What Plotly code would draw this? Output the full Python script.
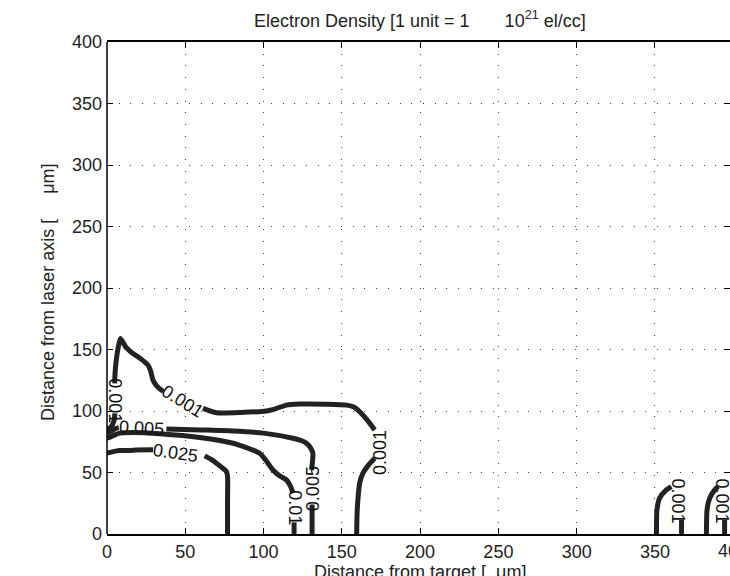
import plotly.graph_objects as go

# ---- contour level 0.001 (segments between labels) ----
c001_a_x = [0, 2.5, 4.5, 5.0]
c001_a_y = [85, 87, 92, 98]
c001_b_x = [4.9, 5.2, 6.0, 7.2, 8.6, 12.0, 16.6, 22.0, 26.2, 28.0, 29.4, 32.0, 34.7, 36.0]
c001_b_y = [122.5, 132, 142, 152, 159, 152, 146.8, 142, 137.3, 132, 125, 120, 117, 116]
c001_c_x = [61.3, 66, 70, 85, 101.8, 108, 114.6, 123, 140, 153, 158, 161.4, 166, 171]
c001_c_y = [102.2, 100, 98.6, 98.8, 100, 102, 104.8, 105.6, 105.5, 104.8, 103, 99.4, 93, 84.6]
c001_d_x = [171, 167, 163.5, 161.5, 160.4, 159.7, 159.5]
c001_d_y = [61.6, 56, 49.5, 42, 30, 15, 0]
c001_e_x = [351.0, 351.3, 353.0, 357.3, 360.5]
c001_e_y = [0, 19.7, 29.2, 35.9, 38.6]
c001_f_x = [367.0, 367.0]
c001_f_y = [0, 11.5]
c001_g_x = [382.9, 383.3, 385.0, 388.2, 390.3]
c001_g_y = [0, 19.8, 29.2, 35.9, 38.6]
c001_h_x = [394.5, 394.5]
c001_h_y = [0, 11.5]

# ---- contour level 0.005 ----
c005_a_x = [0, 3, 6, 7.5]
c005_a_y = [82, 84, 86, 86.5]
c005_b_x = [37.9, 60, 80.5, 100, 118.8, 124, 127.4, 130, 131.5, 131.2, 130.6]
c005_b_y = [85.4, 84.6, 83.8, 82, 77.8, 76, 73.8, 70, 65.7, 58, 52.1]
c005_c_x = [131.0, 131.0]
c005_c_y = [0, 24]

# ---- contour level 0.01 ----
c01_a_x = [0, 4, 8.1, 16.6, 33.7, 59.2, 80.5, 97.5, 102, 106, 110, 114.6, 117.5, 118.8]
c01_a_y = [77.8, 80, 82, 82.5, 81.5, 78.5, 73.8, 65.7, 59, 52, 47.5, 44, 38, 33.2]
c01_b_x = [119.5, 119.5]
c01_b_y = [0, 9.5]

# ---- contour level 0.025 ----
c025_a_x = [0, 4, 8, 18, 29.4]
c025_a_y = [65.7, 67, 67.8, 68.2, 68.4]
c025_b_x = [62.4, 66, 69.9, 73.5, 76.3, 77.0, 77.0, 77.0]
c025_b_y = [63.5, 61, 57.6, 54, 50.8, 47, 25, 0]

segments_x = [c001_a_x, c001_b_x, c001_c_x, c001_d_x, c001_e_x, c001_f_x, c001_g_x, c001_h_x,
              c005_a_x, c005_b_x, c005_c_x, c01_a_x, c01_b_x, c025_a_x, c025_b_x]
segments_y = [c001_a_y, c001_b_y, c001_c_y, c001_d_y, c001_e_y, c001_f_y, c001_g_y, c001_h_y,
              c005_a_y, c005_b_y, c005_c_y, c01_a_y, c01_b_y, c025_a_y, c025_b_y]

# ---- contour labels ----
label_text = ["0.001", "0.001", "0.001", "0.005", "0.005", "0.025", "0.01", "0.001", "0.001"]
label_x = [5.0, 48, 174.5, 22, 132, 44, 120, 365, 393]
label_y = [108, 108, 66, 86, 37, 66, 21, 27, 27]
label_angle = [90, 32, -90, 3, -90, 8, 90, 90, 90]

x_ticks = [0, 50, 100, 150, 200, 250, 300, 350, 400]
y_ticks = [0, 50, 100, 150, 200, 250, 300, 350, 400]

FONT = "Liberation Sans, Arial, sans-serif"
FS = 18

fig = go.Figure()
for sx, sy in zip(segments_x, segments_y):
    fig.add_trace(go.Scatter(x=sx, y=sy, mode="lines",
                             line=dict(color="#222222", width=5, shape="spline", smoothing=0.6),
                             hoverinfo="skip", showlegend=False))

for t, lx, ly, la in zip(label_text, label_x, label_y, label_angle):
    fig.add_annotation(x=lx, y=ly, xref="x", yref="y", text=t, showarrow=False,
                       textangle=la, font=dict(family=FONT, size=FS, color="#111"))

W, H = 730, 576
ML, MR, MT, MB = 107, 0, 42, 42
px_per_unit = 1.5655
plot_w = W - ML - MR
xmax = plot_w / px_per_unit
xc = (420 - ML) / plot_w  # horizontal centre of the full (uncut) axes box

# the 400 tick label sits just past the window edge
fig.add_annotation(x=400 * px_per_unit / plot_w, y=0, xref="paper", yref="paper",
                   yshift=-17, text="400", showarrow=False, xanchor="center", yanchor="middle",
                   font=dict(family=FONT, size=FS, color="#222"))

# titles
fig.add_annotation(x=xc, y=1, xref="paper", yref="paper", yshift=23,
                   text="Electron Density [1 unit = 1" + "\u00a0" * 7 + "10<sup>21</sup> el/cc]",
                   showarrow=False, xanchor="center", yanchor="middle",
                   font=dict(family=FONT, size=FS, color="#222"))
fig.add_annotation(x=xc, y=0, xref="paper", yref="paper", yshift=-38,
                   text="Distance from target [" + "\u00a0" * 2 + "μm]",
                   showarrow=False, xanchor="center", yanchor="middle",
                   font=dict(family=FONT, size=FS, color="#222"))
fig.add_annotation(x=0, y=0.49, xref="paper", yref="paper", xshift=-59,
                   text="Distance from laser axis [" + "\u00a0" * 5 + "μm]",
                   showarrow=False, textangle=-90, xanchor="center", yanchor="middle",
                   font=dict(family=FONT, size=FS, color="#222"))

# left spine
fig.add_shape(type="line", xref="paper", yref="paper", x0=0, x1=0, y0=0, y1=1,
              line=dict(color="#000", width=1.5))

axis_common = dict(
    ticks="inside", ticklen=6, tickwidth=1, tickcolor="#000",
    showgrid=True, gridcolor="#444", gridwidth=1, griddash="1px,10.7px",
    zeroline=False, tickfont=dict(family=FONT, size=FS, color="#222"),
)
fig.update_xaxes(range=[0, xmax], tickvals=x_ticks, ticktext=[str(v) for v in x_ticks],
                 showline=True, linecolor="#000", linewidth=1.5, mirror="ticks",
                 ticklabelstandoff=1, **axis_common)
fig.update_yaxes(range=[0, 400], tickvals=y_ticks, ticktext=[str(v) for v in y_ticks],
                 showline=False, mirror="ticks", ticklabelstandoff=4, **axis_common)

fig.update_layout(width=W, height=H, margin=dict(l=ML, r=MR, t=MT, b=MB, pad=0),
                  paper_bgcolor="white", plot_bgcolor="white", showlegend=False)

fig.write_html("out.html")
